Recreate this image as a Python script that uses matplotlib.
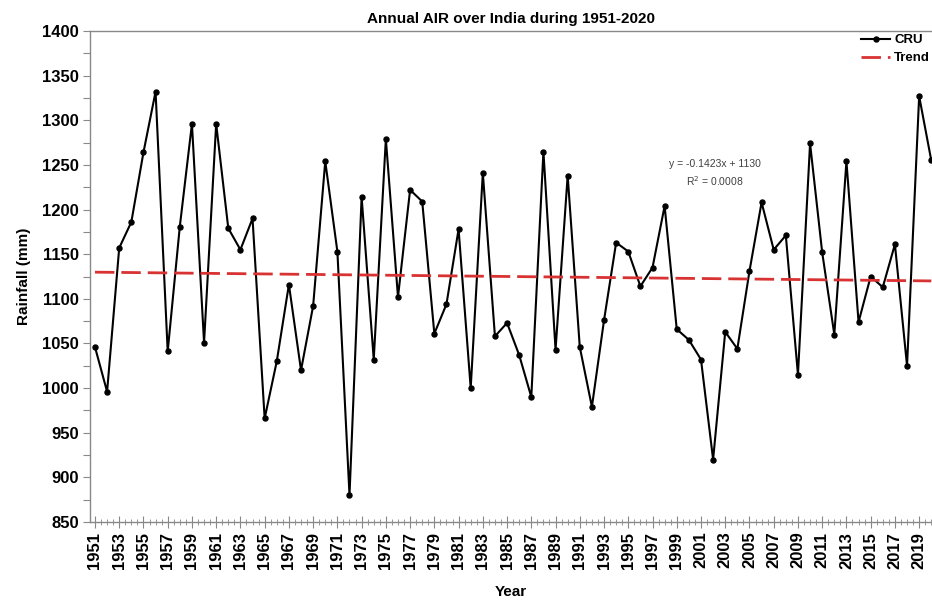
import numpy as np
import matplotlib.pyplot as plt
from matplotlib.ticker import MultipleLocator, FixedLocator

plt.rcParams['font.family'] = ['Liberation Sans', 'DejaVu Sans']

# Годовое количество осадков (мм), CRU, 1951-2020
years = np.arange(1951, 2021)
rainfall = [
    1046, 996, 1157, 1186, 1264, 1332, 1041, 1181, 1296, 1051,
    1296, 1179, 1155, 1190, 966, 1030, 1116, 1020, 1092, 1254,
    1153, 880, 1214, 1032, 1279, 1102, 1222, 1209, 1061, 1094,
    1178, 1000, 1241, 1058, 1073, 1037, 990, 1265, 1043, 1238,
    1046, 979, 1076, 1163, 1153, 1114, 1135, 1204, 1066, 1054,
    1032, 920, 1063, 1044, 1131, 1208, 1155, 1171, 1015, 1274,
    1152, 1060, 1254, 1074, 1125, 1113, 1161, 1025, 1327, 1255,
]

# Линейный тренд: y = a*x + b, x = 1..70
slope = -0.1423
intercept = 1130
r2 = 0.0008

x_idx = np.arange(1, len(years) + 1)
trend = slope * x_idx + intercept

fig = plt.figure(figsize=(9.32, 6.03), dpi=100)
ax = fig.add_axes([90 / 932, 81 / 603, 842 / 932, 491 / 603])

ax.plot(years, rainfall, color='black', lw=1.5, marker='o', ms=3.6, label='CRU')
ax.plot(years, trend, color='#d93232', lw=2.0, dashes=(7, 2.5), label='Trend')

ax.set_xlim(1950.59, 2020.06)
ax.set_ylim(850, 1400)

ax.yaxis.set_major_locator(MultipleLocator(50))
ax.yaxis.set_minor_locator(MultipleLocator(25))
ax.xaxis.set_major_locator(FixedLocator(years[::2]))
ax.xaxis.set_minor_locator(MultipleLocator(0.5))

ax.tick_params(axis='y', which='both', direction='out', length=5, width=0.8,
               color='#888888', pad=3, labelsize=12)
ax.tick_params(axis='x', which='major', direction='inout', length=8, width=0.8,
               color='#888888', pad=3, labelsize=12, labelrotation=90)
ax.tick_params(axis='x', which='minor', direction='inout', length=5, width=0.6,
               color='#888888')

for lab in ax.get_xticklabels() + ax.get_yticklabels():
    lab.set_fontweight('bold')

for side in ['left', 'bottom', 'top']:
    ax.spines[side].set_color('#888888')
    ax.spines[side].set_linewidth(1.0)
ax.spines['right'].set_visible(False)

ax.set_title('Annual AIR over India during 1951-2020', fontsize=11,
             fontweight='bold', pad=6)
ax.set_xlabel('Year', fontsize=11, fontweight='bold', labelpad=12)
ax.set_ylabel('Rainfall (mm)', fontsize=11, fontweight='bold', labelpad=8)

ax.text(0.742, 0.71, f'y = {slope}x + {intercept}\nR$^2$ = {r2}',
        transform=ax.transAxes, ha='center', va='center', fontsize=7.5,
        color='#404040', linespacing=1.4, multialignment='center')

leg = ax.legend(loc='upper right', bbox_to_anchor=(1.012, 1.018), frameon=False,
                handlelength=2.2, handletextpad=0.3, labelspacing=0.45,
                prop={'weight': 'bold', 'size': 9.5})

fig.savefig('out.png', dpi=100)
